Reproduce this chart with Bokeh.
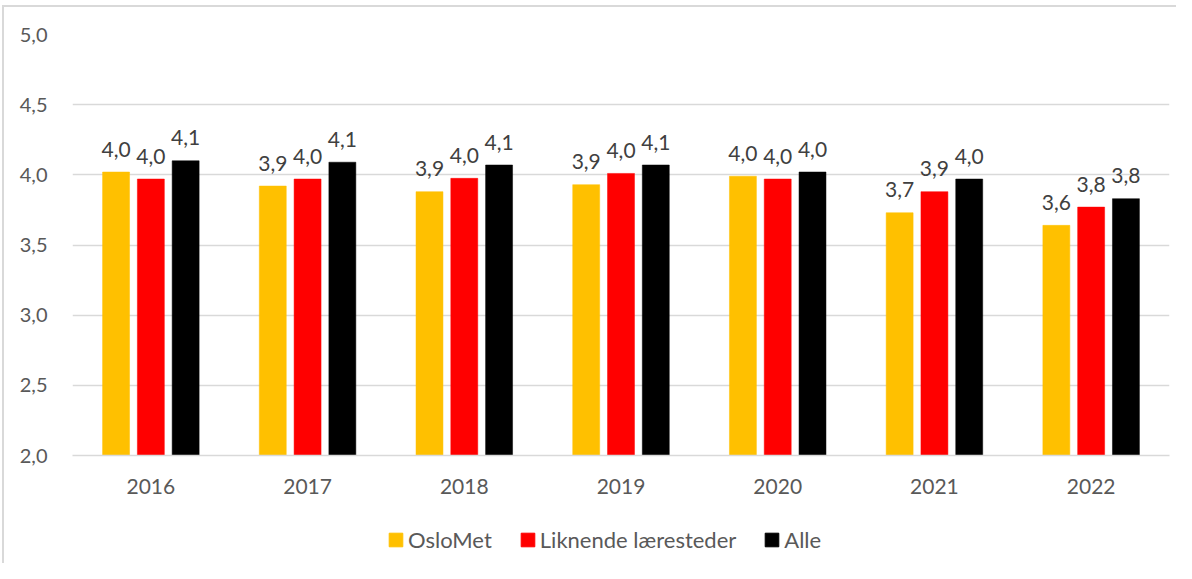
from bokeh.plotting import figure
from bokeh.layouts import column
from bokeh.models import (ColumnDataSource, FactorRange, Range1d, FixedTicker,
                          CustomJSTickFormatter, Legend, LegendItem)
from bokeh.transform import dodge
from bokeh.core.properties import value
from bokeh.embed import file_html
from bokeh.resources import INLINE

years = ["2016", "2017", "2018", "2019", "2020", "2021", "2022"]
oslomet = [4.02, 3.92, 3.88, 3.93, 3.99, 3.73, 3.64]
liknende = [3.97, 3.97, 3.975, 4.01, 3.97, 3.88, 3.77]
alle = [4.10, 4.09, 4.07, 4.07, 4.02, 3.97, 3.83]
series_names = ["OsloMet", "Liknende læresteder", "Alle"]
colors = ["#FFC000", "#FF0000", "#000000"]
y_ticks = [2.0, 2.5, 3.0, 3.5, 4.0, 4.5, 5.0]

FONT = "Lato"

def fmt(v):
    return f"{v:.1f}".replace(".", ",")

src = ColumnDataSource(dict(
    years=years,
    oslomet=oslomet, liknende=liknende, alle=alle,
    l_oslomet=[fmt(v) for v in oslomet],
    l_liknende=[fmt(v) for v in liknende],
    l_alle=[fmt(v) for v in alle],
))

p = figure(width=1172, height=513, output_backend="svg", toolbar_location=None,
           x_range=FactorRange(*years), y_range=Range1d(2, 5),
           min_border_left=68, min_border_top=27, min_border_right=7,
           min_border_bottom=65)
p.outline_line_color = None
p.background_fill_color = "white"
p.border_fill_color = "white"

offsets = [-0.222, 0.0, 0.222]
cols = ["oslomet", "liknende", "alle"]
for off, col, c in zip(offsets, cols, colors):
    p.vbar(x=dodge("years", off, range=p.x_range), top=col, bottom=2,
           width=0.172, source=src, fill_color=c, line_color=c, line_width=0.5)
    p.text(x=dodge("years", off, range=p.x_range), y=col, text="l_" + col,
           source=src, text_align="center", text_baseline="alphabetic",
           y_offset=-23, text_font=value(FONT), text_font_size="21px",
           text_color="#404040")

# axes
p.yaxis.ticker = FixedTicker(ticks=y_ticks)
p.yaxis.formatter = CustomJSTickFormatter(code="return tick.toFixed(1).replace('.', ',');")
p.yaxis.axis_line_color = None
p.yaxis.major_tick_line_color = None
p.yaxis.minor_tick_line_color = None
p.yaxis.major_label_standoff = 19
p.yaxis.major_label_text_font = FONT
p.yaxis.major_label_text_font_size = "20px"
p.yaxis.major_label_text_color = "#595959"

p.xaxis.axis_line_color = "#d9d9d9"
p.xaxis.axis_line_width = 1.5
p.xaxis.major_tick_line_color = None
p.xaxis.minor_tick_line_color = None
p.xaxis.major_label_standoff = 17
p.xaxis.major_label_text_font = FONT
p.xaxis.major_label_text_font_size = "21px"
p.xaxis.major_label_text_color = "#595959"

p.xgrid.grid_line_color = None
p.ygrid.grid_line_color = "#d9d9d9"
p.ygrid.grid_line_width = 1.5

# legend strip below the chart
lg = figure(width=1172, height=43, output_backend="svg", toolbar_location=None,
            x_range=Range1d(0, 1), y_range=Range1d(0, 1),
            x_axis_location=None, y_axis_location=None,
            min_border=0, min_border_left=0, min_border_right=0,
            min_border_top=0, min_border_bottom=0)
lg.outline_line_color = None
lg.xgrid.grid_line_color = None
lg.ygrid.grid_line_color = None
lg.border_fill_color = "white"
nan = float("nan")
leg_renderers = [lg.vbar(x=[nan], top=[nan], width=0.1, fill_color=c, line_color=c)
                 for c in colors]
legend = Legend(items=[LegendItem(label=n, renderers=[r])
                       for n, r in zip(series_names, leg_renderers)],
                orientation="horizontal", location=(315, 10),
                glyph_width=17, glyph_height=17, label_standoff=4, spacing=27,
                padding=0, margin=0, border_line_color=None, background_fill_alpha=0,
                label_text_font=FONT, label_text_font_size="22px",
                label_text_color="#595959")
lg.add_layout(legend, "center")

layout = column(p, lg, spacing=0)
layout.styles = {"border-top": "2px solid #d9d9d9", "border-left": "2px solid #d9d9d9",
                 "margin-left": "2px", "margin-top": "5px"}

open("out.html", "w").write(file_html(layout, INLINE))
